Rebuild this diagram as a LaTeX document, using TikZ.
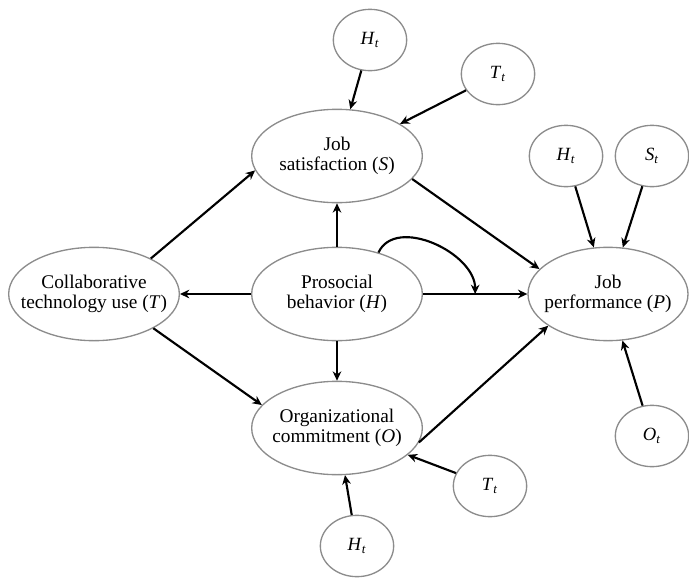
\documentclass[tikz,border=0pt]{standalone}
\usepackage{fontspec}
\setmainfont{Liberation Serif}
\usetikzlibrary{shapes.geometric,arrows.meta,positioning,calc}
\tikzstyle{var}=[ellipse,draw=gray!90,line width=1pt,inner sep=0pt,minimum width=128pt,minimum height=70pt]
\tikzstyle{lbl}=[align=center,font=\fontsize{14.5}{15.5}\selectfont,inner sep=0pt]
\tikzstyle{err}=[ellipse,draw=gray!90,line width=1pt,inner sep=0pt,minimum width=55pt,minimum height=46pt,font=\fontsize{14}{16}\selectfont]
\tikzstyle{arr}=[-{Stealth[length=7pt,width=6.5pt]},line width=1.6pt]
\newcommand{\ev}[2]{\textit{#1}\textsubscript{\textit{#2}}}

\begin{document}
\begin{tikzpicture}[x=0.75pt,y=-0.75pt]
\useasboundingbox (0,0) rectangle (689,578);
% constructs
\node[var, label={[lbl]center:Job\\satisfaction (\textit{S})}] (S) at (337,156) {};
\node[var, label={[lbl]center:Prosocial\\behavior (\textit{H})}] (H) at (337,294) {};
\node[var, label={[lbl]center:Collaborative\\technology use (\textit{T})}] (T) at (94,294) {};
\node[var, minimum width=120pt, label={[lbl]center:Job\\performance (\textit{P})}] (P) at (608,294) {};
\node[var, label={[lbl]center:Organizational\\commitment (\textit{O})}] (O) at (337,428) {};
% time effects
\node[err] (HtS) at (370,40) {\ev{H}{t}};
\node[err] (TtS) at (498,74) {\ev{T}{t}};
\node[err] (HtP) at (566,156) {\ev{H}{t}};
\node[err] (StP) at (652,156) {\ev{S}{t}};
\node[err] (OtP) at (652,436) {\ev{O}{t}};
\node[err] (TtO) at (490,486) {\ev{T}{t}};
\node[err] (HtO) at (357,546) {\ev{H}{t}};
\coordinate (mid) at ($(H.east)!0.5!(P.west)$);
% paths
\draw[arr] (T.32) -- (S.190);
\draw[arr] (T.330) -- (O.163);
\draw[arr] (H) -- (T);
\draw[arr] (H) -- (S);
\draw[arr] (H) -- (O);
\draw[arr] (H) -- (P);
\draw[arr] (S.343) -- (P.160);
\draw[arr] (O.350) -- (P.208);
\draw[arr] (H.45) to[out=65,in=90] (mid);
\draw[arr] (HtS) -- (S);
\draw[arr] (TtS) -- (S);
\draw[arr] (HtP) -- (P);
\draw[arr] (StP) -- (P);
\draw[arr] (OtP) -- (P);
\draw[arr] (TtO) -- (O);
\draw[arr] (HtO) -- (O);
\end{tikzpicture}
\end{document}
